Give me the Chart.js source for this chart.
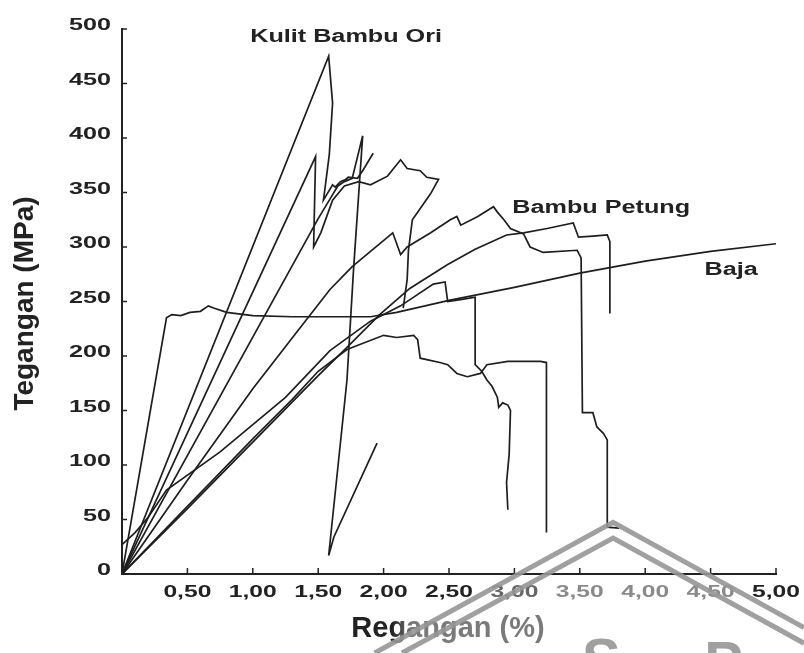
<!DOCTYPE html>
<html><head><meta charset="utf-8">
<script src="https://cdn.jsdelivr.net/npm/chart.js@4.4.1/dist/chart.umd.min.js"></script>
<style>html,body{margin:0;padding:0;background:#fff}#wrap{width:804px;height:653px}</style>
</head><body><div id="wrap"><canvas id="c" width="804" height="653"></canvas></div>
<script>
// ---- tick values / labels ----
const xTickValues = [0.5, 1, 1.5, 2, 2.5, 3, 3.5, 4, 4.5, 5];
const xTickLabels = ['0,50','1,00','1,50','2,00','2,50','3,00','3,50','4,00','4,50','5,00'];
const xTickColors = ['#222','#222','#222','#222','#222','#666','#8a8a8a','#8a8a8a','#8a8a8a','#222'];
const yTickValues = [0, 50, 100, 150, 200, 250, 300, 350, 400, 450, 500];
const yTickLabels = ['0','50','100','150','200','250','300','350','400','450','500'];

// ---- series (strain %, stress MPa) ----
const bajaX = [0, 0.34, 0.38, 0.45, 0.52, 0.6, 0.66, 0.7, 0.8, 1.0, 1.3, 1.6, 1.9, 2.1, 2.5, 3.0, 3.5, 4.0, 4.5, 5.0];
const bajaY = [0, 235, 238, 237, 240, 241, 246, 244, 240, 237, 236, 236, 236, 240, 251, 263, 276, 287, 296, 303];

const kulit1X = [0, 1.58, 1.61, 1.585, 1.55, 1.54, 1.61, 1.63, 1.67, 1.71, 1.73, 1.8, 1.84, 1.92];
const kulit1Y = [0, 475, 432, 385, 352, 343, 357, 355, 360, 362, 364, 363, 370, 386];

const kulit2X = [0, 1.48, 1.465, 1.52, 1.61, 1.7, 1.81, 1.9, 2.03, 2.13, 2.18, 2.28, 2.33, 2.42, 2.36, 2.22, 2.19, 2.18, 2.15];
const kulit2Y = [0, 383, 300, 313, 343, 356, 360, 357, 365, 380, 372, 370, 364, 362, 349, 325, 297, 270, 244];

const kulit3X = [0, 1.5, 1.6, 1.65, 1.7, 1.76, 1.84, 1.77, 1.72, 1.58, 1.62, 1.95];
const kulit3Y = [0, 326, 346, 356, 360, 363, 402, 279, 178, 17, 34, 120];

const petung1X = [0, 0.5, 1.0, 1.35, 1.59, 1.76, 2.07, 2.13, 2.18, 2.36, 2.51, 2.56, 2.59, 2.72, 2.84, 2.87, 2.92, 2.97, 3.07, 3.12, 3.22, 3.48, 3.51, 3.52, 3.6, 3.63, 3.68, 3.71, 3.71, 3.8];
const petung1Y = [0, 86, 170, 224, 261, 282, 313, 293, 300, 313, 325, 328, 320, 328, 337, 332, 325, 317, 312, 300, 295, 297, 290, 148, 148, 135, 129, 123, 43, 42];

const petung2X = [0, 0.1, 0.2, 0.34, 0.75, 1.25, 1.59, 1.9, 2.13, 2.38, 2.47, 2.49, 2.6, 2.7, 2.7, 2.75, 2.79, 2.83, 2.87, 2.88, 2.91, 2.95, 2.97, 2.96, 2.94, 2.95];
const petung2Y = [27, 38, 52, 77, 112, 162, 205, 232, 246, 266, 268, 250, 252, 254, 192, 186, 178, 172, 162, 153, 157, 155, 150, 110, 84, 59];

const petung3X = [0, 0.5, 1.0, 1.3, 1.5, 1.72, 2.0, 2.1, 2.23, 2.26, 2.28, 2.43, 2.49, 2.56, 2.64, 2.74, 2.79, 2.95, 3.2, 3.245, 3.245];
const petung3Y = [0, 62, 124, 160, 186, 206, 219, 217, 219, 215, 198, 194, 192, 184, 181, 184, 192, 195, 195, 194, 38];

const petung4X = [0, 0.5, 1.0, 1.5, 1.72, 1.97, 2.2, 2.49, 2.7, 2.94, 3.07, 3.25, 3.45, 3.49, 3.6, 3.71, 3.73, 3.73];
const petung4Y = [0, 60, 121, 182, 208, 238, 262, 284, 298, 311, 313, 317, 322, 309, 310, 311, 305, 239];

// ---- curve annotations (data coords, left/baseline) ----
const noteTexts = ['Kulit Bambu Ori', 'Bambu Petung', 'Baja'];
const noteX = [0.98, 2.984, 4.453];
const noteY = [488, 331, 274];

const seriesX = [bajaX, kulit1X, kulit2X, kulit3X, petung1X, petung2X, petung3X, petung4X];
const seriesY = [bajaY, kulit1Y, kulit2Y, kulit3Y, petung1Y, petung2Y, petung3Y, petung4Y];

const datasets = seriesX.map((xs, k) => ({
  data: xs.map((v, i) => ({x: v, y: seriesY[k][i]})),
  showLine: true, pointRadius: 0, borderColor: '#1e1e1e', borderWidth: 1.7,
  tension: 0, fill: false
}));

const FONT = '"Liberation Sans", Arial, sans-serif';
function sText(ctx, s, x, y, align, sx) {
  ctx.save(); ctx.translate(x, y); ctx.scale(sx, 1);
  ctx.textAlign = align; ctx.fillText(s, 0, 0); ctx.restore();
}

const decor = {
  id: 'decor',
  afterDraw(chart) {
    const ctx = chart.ctx, xs = chart.scales.x, ys = chart.scales.y, a = chart.chartArea;
    ctx.save();
    // tick marks
    ctx.strokeStyle = '#222'; ctx.lineWidth = 1.5;
    yTickValues.forEach(v => { const p = ys.getPixelForValue(v); ctx.beginPath(); ctx.moveTo(a.left, p); ctx.lineTo(a.left + 5, p); ctx.stroke(); });
    xTickValues.forEach(v => { const p = xs.getPixelForValue(v); ctx.beginPath(); ctx.moveTo(p, a.bottom); ctx.lineTo(p, a.bottom - 6); ctx.stroke(); });
    // tick labels
    ctx.font = 'bold 17px ' + FONT; ctx.textBaseline = 'alphabetic';
    ctx.fillStyle = '#222';
    yTickValues.forEach((v, i) => sText(ctx, yTickLabels[i], a.left - 11, ys.getPixelForValue(v) + 1, 'right', 1.48));
    xTickValues.forEach((v, i) => { ctx.fillStyle = xTickColors[i]; sText(ctx, xTickLabels[i], xs.getPixelForValue(v), a.bottom + 23, 'center', 1.45); });
    // curve notes
    ctx.fillStyle = '#222'; ctx.font = 'bold 18px ' + FONT;
    noteTexts.forEach((t, i) => sText(ctx, t, xs.getPixelForValue(noteX[i]), ys.getPixelForValue(noteY[i]), 'left', 1.4));
    // axis titles
    ctx.font = 'bold 28px ' + FONT; ctx.textBaseline = 'middle';
    ctx.save(); ctx.translate(a.left - 97, (a.top + a.bottom) / 2 + 2); ctx.rotate(-Math.PI / 2);
    ctx.textAlign = 'center'; ctx.fillStyle = '#222'; ctx.fillText('Tegangan (MPa)', 0, 0); ctx.restore();
    const cx = (a.left + a.right) / 2 - 1;
    const g = ctx.createLinearGradient(cx - 100, 0, cx + 100, 0);
    g.addColorStop(0, '#222'); g.addColorStop(0.22, '#222'); g.addColorStop(0.32, '#7a7a7a'); g.addColorStop(1, '#7a7a7a');
    ctx.fillStyle = g; ctx.textAlign = 'center';
    ctx.font = 'bold 29px ' + FONT;
    ctx.fillText('Regangan (%)', cx, a.bottom + 55);
    // watermark
    const W = chart.width, H = chart.height;
    ctx.strokeStyle = 'rgba(150,150,150,0.9)'; ctx.lineWidth = 5; ctx.lineJoin = 'miter';
    ctx.beginPath(); ctx.moveTo(W * 0.466, H); ctx.lineTo(W * 0.7625, H * 0.8); ctx.lineTo(W, H * 0.961); ctx.stroke();
    ctx.beginPath(); ctx.moveTo(W * 0.5, H); ctx.lineTo(W * 0.7625, H * 0.824); ctx.lineTo(W, H * 0.985); ctx.stroke();
    ctx.fillStyle = 'rgba(150,150,150,0.9)'; ctx.font = 'bold 58px ' + FONT; ctx.textBaseline = 'alphabetic'; ctx.textAlign = 'center';
    ctx.fillText('S', W * 0.748, H * 1.04);
    ctx.fillText('P', W * 0.9, H * 1.045);
    ctx.restore();
  }
};

new Chart(document.getElementById('c'), {
  type: 'scatter',
  data: { datasets },
  options: {
    responsive: false, animation: false, devicePixelRatio: 1,
    layout: { padding: { left: 122, right: 28, top: 29, bottom: 79 } },
    plugins: { legend: { display: false }, tooltip: { enabled: false } },
    scales: {
      x: { type: 'linear', min: 0, max: 5, grid: { display: false }, ticks: { display: false },
           border: { display: true, color: '#222', width: 2 }, afterFit(s) { s.height = 0; } },
      y: { type: 'linear', min: 0, max: 500, grid: { display: false }, ticks: { display: false },
           border: { display: true, color: '#222', width: 2 }, afterFit(s) { s.width = 0; } }
    }
  },
  plugins: [decor]
});
</script></body></html>
